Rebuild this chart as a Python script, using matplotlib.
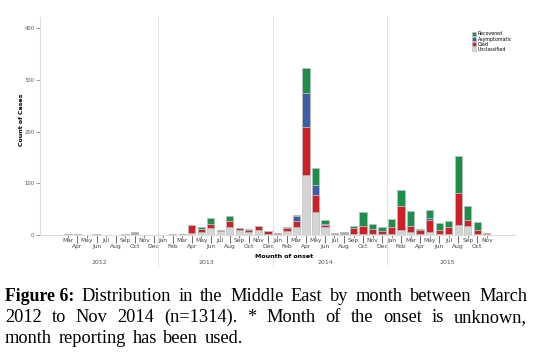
import numpy as np
import matplotlib
matplotlib.use("Agg")
import matplotlib.pyplot as plt
from matplotlib.patches import Patch

# months from Mar 2012 to Nov 2015
month_names = ["Jan", "Feb", "Mar", "Apr", "May", "Jun", "Jul", "Aug", "Sep", "Oct", "Nov", "Dec"]
months = [month_names[(m + 2) % 12] for m in range(45)]
years = ["2012", "2013", "2014", "2015"]
year_label_pos = [3.3, 14.5, 27.0, 39.8]
year_breaks = [9.5, 21.5, 33.5]

unclassified = [1, 1, 0, 1, 0, 0, 1, 1, 0, 0,
                0, 0, 1, 3, 5, 14, 8, 15, 9, 6, 10, 2,
                2, 7, 16, 117, 44, 15, 1, 1, 2, 1, 1, 1,
                2, 10, 6, 1, 5, 2, 2, 19, 18, 2, 1]
died = [0, 0, 0, 0, 0, 0, 0, 3, 0, 0,
        0, 2, 1, 16, 6, 8, 2, 12, 4, 4, 7, 6,
        1, 7, 12, 93, 34, 5, 3, 3, 12, 17, 10, 7,
        13, 46, 12, 9, 25, 8, 14, 63, 11, 8, 3]
asymptomatic = [0] * 22 + [0, 0, 8, 64, 18, 2, 0, 0, 0, 0, 0, 0,
                           0, 0, 0, 0, 2, 0, 0, 0, 0, 0, 0]
recovered = [0, 0, 0, 0, 0, 0, 0, 2, 0, 0,
             0, 0, 0, 0, 5, 11, 0, 10, 1, 1, 1, 0,
             0, 1, 3, 50, 34, 8, 0, 2, 3, 27, 10, 8,
             16, 32, 28, 2, 16, 14, 12, 71, 28, 16, 0]

series = [("Unclassified", unclassified, "#d4d4d4"),
          ("Died", died, "#cf2027"),
          ("Asymptomatic", asymptomatic, "#3d5dab"),
          ("Recovered", recovered, "#1d8e4c")]

fig = plt.figure(figsize=(5.33, 3.61), dpi=100)
ax = fig.add_axes([0.075, 0.349, 0.891, 0.604])

x = np.arange(len(months))
bottom = np.zeros(len(months))
for name, vals, col in series:
    vals = np.array(vals, dtype=float)
    ax.bar(x, vals, bottom=bottom, width=0.77, color=col, edgecolor="#bdbdbd",
           linewidth=0.5)
    bottom += vals

ax.set_xlim(-2.94, 46.95)
ax.set_ylim(0, 422)

for s in ["top", "right"]:
    ax.spines[s].set_visible(False)
ax.spines["left"].set_color("#dddddd")
ax.spines["bottom"].set_color("#dddddd")
ax.spines["left"].set_linewidth(0.8)
ax.spines["bottom"].set_linewidth(0.8)

ax.set_yticks([0, 100, 200, 300, 400])
ax.tick_params(axis="y", labelsize=3.8, length=3, width=0.5, color="#777777",
               labelcolor="#555555", pad=1)

# two-row month labels
ax.set_xticks(x[::2], [months[i] for i in x[::2]])
ax.set_xticks(x[1::2], [months[i] for i in x[1::2]], minor=True)
ax.tick_params(axis="x", which="major", labelsize=4.3, length=2, width=0.5,
               color="#555555", labelcolor="#444444", pad=0.3)
ax.tick_params(axis="x", which="minor", labelsize=4.3, length=5.5, width=0.6,
               color="#555555", labelcolor="#444444", pad=1.0)

for b in year_breaks:
    ax.plot([b, b], [-0.14, 1.0], color="#e6e6e6", lw=0.7,
            transform=ax.get_xaxis_transform(), clip_on=False, zorder=0)

for pos, yr in zip(year_label_pos, years):
    ax.text(pos, -0.125, yr, transform=ax.get_xaxis_transform(), ha="center",
            va="center", fontsize=4.5, color="#555555")

ax.text(22.7, -0.1, "Mounth of onset", transform=ax.get_xaxis_transform(),
        ha="center", va="center", fontsize=4.5, fontweight="bold")
ax.set_ylabel("Count of Cases", fontsize=4.5, fontweight="bold")
ax.yaxis.set_label_coords(-0.033, 0.53)

handles = [Patch(facecolor=c, edgecolor="#bdbdbd", linewidth=0.4, label=n)
           for n, v, c in series[::-1]]
ax.legend(handles=handles, loc="upper left", bbox_to_anchor=(0.905, 0.945),
          frameon=False, fontsize=3.4, handlelength=0.9, handleheight=0.9,
          handletextpad=0.3, labelspacing=0.05, borderpad=0)

# caption, justified by hand
cap_lines = [
    ["Distribution", "in", "the", "Middle", "East", "by", "month", "between", "March"],
    ["2012", "to", "Nov", "2014", "(n=1314).", "*", "Month", "of", "the", "onset", "is", "unknown,"],
    ["month", "reporting", "has", "been", "used."],
]
serif = "Liberation Serif"
fs = 13.2
x_left, x_right = 5 / 533, 527 / 533
line_y = [1 - 301 / 361, 1 - 322 / 361, 1 - 343 / 361]
renderer = fig.canvas.get_renderer()

for li, words in enumerate(cap_lines):
    texts = []
    if li == 0:
        texts.append(fig.text(0, line_y[li], "Figure 6:", fontsize=fs - 0.4, family=serif,
                              fontweight="bold", va="baseline"))
    for w in words:
        texts.append(fig.text(0, line_y[li], w, fontsize=fs, family=serif,
                              va="baseline"))
    widths = [t.get_window_extent(renderer).width / fig.bbox.width for t in texts]
    if li < 2:
        gap = (x_right - x_left - sum(widths)) / (len(texts) - 1)
    else:
        gap = 6.5 / 533
    cur = x_left
    for t, w in zip(texts, widths):
        t.set_x(cur)
        cur += w + gap

fig.savefig("out.png", dpi=100)
